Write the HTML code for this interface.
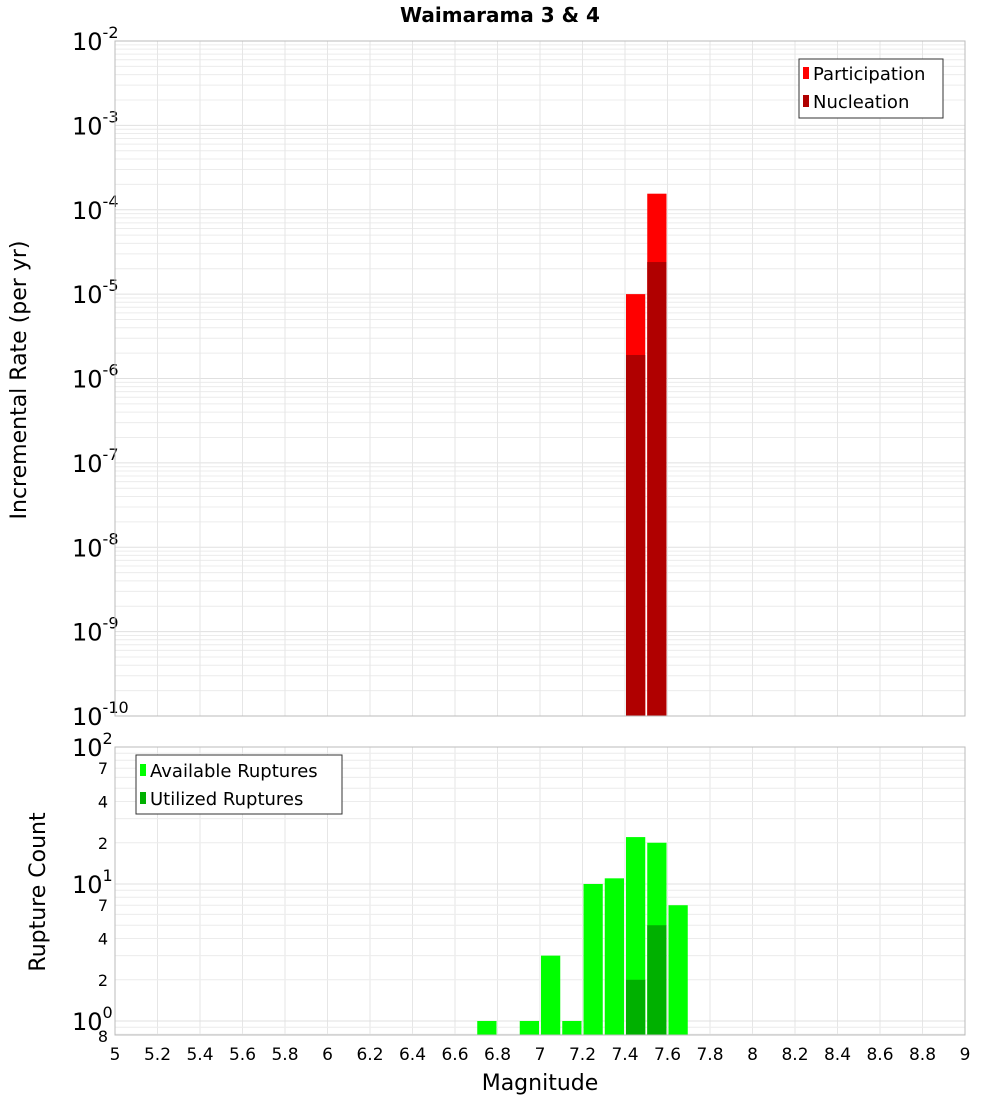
<!DOCTYPE html>
<html><head><meta charset="utf-8"><style>
body{margin:0;background:#fff;font-family:"Liberation Sans","DejaVu Sans",sans-serif}
</style></head><body>
<svg id="c" width="1000" height="1100" xmlns="http://www.w3.org/2000/svg" font-family="DejaVu Sans, Liberation Sans, sans-serif">
<text x="500" y="22" text-anchor="middle" font-size="20" font-weight="bold">Waimarama 3 &amp; 4</text>
<g id="topg"></g><g id="botg"></g>
<text transform="translate(26,380) rotate(-90)" text-anchor="middle" font-size="22">Incremental Rate (per yr)</text>
<text transform="translate(45,892) rotate(-90)" text-anchor="middle" font-size="22">Rupture Count</text>
<text x="540" y="1090" text-anchor="middle" font-size="22">Magnitude</text>
</svg>
<script>
const binCenters=[7.45,7.55];
const participation=[1.0e-5,1.55e-4];
const nucleation=[1.9e-6,2.4e-5];
const countBins=[6.75,6.95,7.05,7.15,7.25,7.35,7.45,7.55,7.65];
const available=[1,1,3,1,10,11,22,20,7];
const utilBins=[7.45,7.55];
const utilized=[2,5];
const xTicks=[5,5.2,5.4,5.6,5.8,6,6.2,6.4,6.6,6.8,7,7.2,7.4,7.6,7.8,8,8.2,8.4,8.6,8.8,9];
const topExps=[-2,-3,-4,-5,-6,-7,-8,-9,-10];
const botMinorLabels=[2,4,7];

const NS="http://www.w3.org/2000/svg";
const X0=115,X1=965;
const xs=m=>X0+(m-5)/4*(X1-X0);
const T0=41,T1=716;
const yt=v=>T0+(-2-Math.log10(v))/8*(T1-T0);
const B0=747,B1=1035,BD=137;
const yb=v=>B0+(2-Math.log10(v))*BD;
function mk(p,t,a,txt){const e=document.createElementNS(NS,t);for(const k in a)e.setAttribute(k,a[k]);if(txt!==undefined)e.textContent=txt;p.appendChild(e);return e;}
const topG=document.getElementById('topg'),botG=document.getElementById('botg');
for(let e=-10;e<-2;e++)for(let k=1;k<10;k++){const y=yt(k*Math.pow(10,e));const l=mk(topG,'line',{x1:X0,x2:X1,y1:y,y2:y,stroke:k==1?'#e0e0e0':'#ececec','stroke-width':1});

}
xTicks.forEach(m=>{const l=mk(topG,'line',{x1:xs(m),x2:xs(m),y1:T0,y2:T1,stroke:'#e6e6e6'});


const l2=mk(botG,'line',{x1:xs(m),x2:xs(m),y1:B0,y2:B1,stroke:'#e6e6e6'});

});
topExps.forEach(e=>{const y=yt(Math.pow(10,e));const t=mk(topG,'text',{x:72,y:y+9,'font-size':24});


mk(t,'tspan',{},'10');mk(t,'tspan',{dy:-12,'font-size':16},String(e));});
binCenters.forEach((m,i)=>{const x=xs(m-0.05)+1,w=(X1-X0)/40-2;
const r=mk(topG,'rect',{x:x,y:yt(participation[i]),width:w,height:T1-yt(participation[i]),fill:'#ff0000'});


const n=mk(topG,'rect',{x:x,y:yt(nucleation[i]),width:w,height:T1-yt(nucleation[i]),fill:'#b00000'});

});
const tf=mk(topG,'rect',{x:X0,y:T0,width:X1-X0,height:T1-T0,fill:'none',stroke:'#bbb'});


const lg=mk(topG,'g',{});


mk(lg,'rect',{x:799,y:59,width:144,height:59,fill:'#fff',stroke:'#333'});
mk(lg,'rect',{x:803,y:67,width:6,height:12,fill:'#ff0000'});mk(lg,'text',{x:813,y:80,'font-size':18},'Participation');
mk(lg,'rect',{x:803,y:95,width:6,height:12,fill:'#b00000'});mk(lg,'text',{x:813,y:108,'font-size':18},'Nucleation');
for(let e=-1;e<2;e++)for(let k=1;k<10;k++){const v=k*Math.pow(10,e);const y=yb(v);if(y>B1||y<B0)continue;const l=mk(botG,'line',{x1:X0,x2:X1,y1:y,y2:y,stroke:k==1?'#e0e0e0':'#ececec'});

}
[1,10,100].forEach((v,i)=>{const t=mk(botG,'text',{x:72,y:yb(v)+9,'font-size':24});


mk(t,'tspan',{},'10');mk(t,'tspan',{dy:-12,'font-size':16},String(i));});
[1,10].forEach(d=>botMinorLabels.forEach(k=>{const t=mk(botG,'text',{x:108,y:yb(k*d)+6,'font-size':16,'text-anchor':'end'},String(k));

}));
const t8=mk(botG,'text',{x:108,y:1042,'font-size':16,'text-anchor':'end'},'8');


countBins.forEach((m,i)=>{const x=xs(m-0.05)+1,w=(X1-X0)/40-2;const r=mk(botG,'rect',{x:x,y:yb(available[i]),width:w,height:B1-yb(available[i]),fill:'#00ff00'});

});
utilBins.forEach((m,i)=>{const x=xs(m-0.05)+1,w=(X1-X0)/40-2;const r=mk(botG,'rect',{x:x,y:yb(utilized[i]),width:w,height:B1-yb(utilized[i]),fill:'#00b000'});

});
const bf=mk(botG,'rect',{x:X0,y:B0,width:X1-X0,height:B1-B0,fill:'none',stroke:'#bbb'});


xTicks.forEach(m=>{const t=mk(botG,'text',{x:xs(m),y:1060,'font-size':17,'text-anchor':'middle'},String(m));

});
const lb=mk(botG,'g',{});


mk(lb,'rect',{x:136,y:755,width:206,height:59,fill:'#fff',stroke:'#333'});
mk(lb,'rect',{x:140,y:764,width:6,height:12,fill:'#00ff00'});mk(lb,'text',{x:150,y:777,'font-size':18},'Available Ruptures');
mk(lb,'rect',{x:140,y:792,width:6,height:12,fill:'#00b000'});mk(lb,'text',{x:150,y:805,'font-size':18},'Utilized Ruptures');
</script>
</body></html>
